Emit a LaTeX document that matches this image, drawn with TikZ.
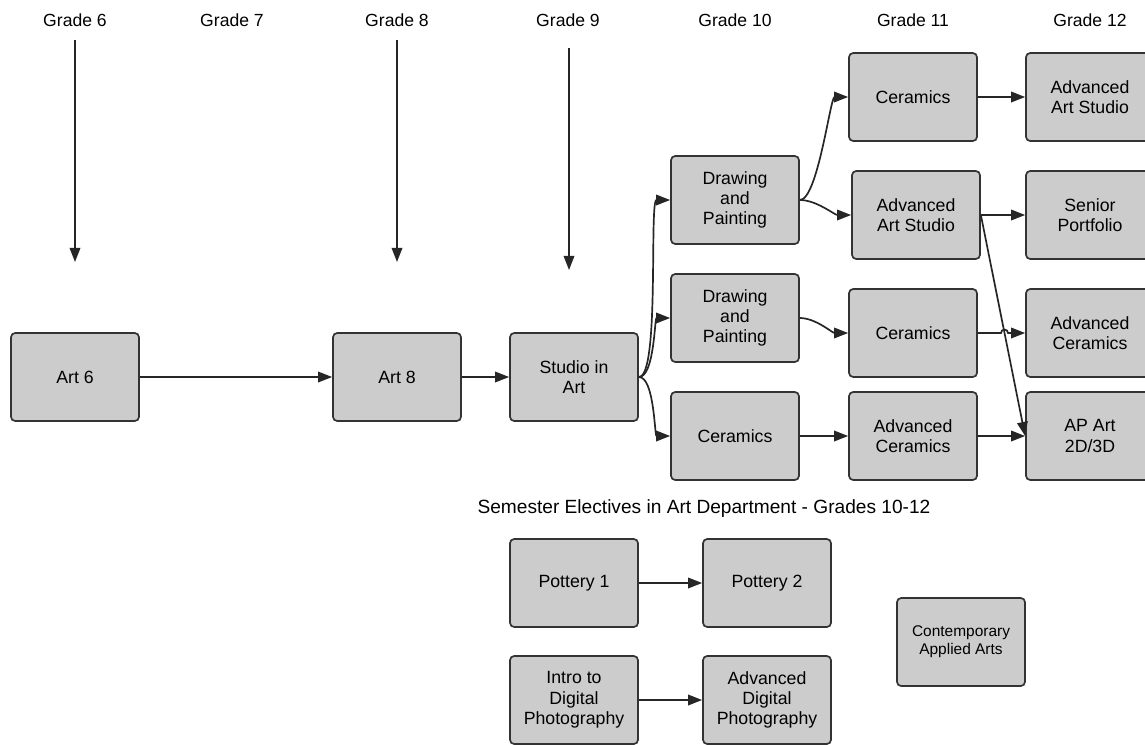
\documentclass[tikz,border=0pt]{standalone}
\usepackage{fontspec}
\setmainfont{Liberation Sans}
\usetikzlibrary{arrows.meta}
\usetikzlibrary{intersections}
\tikzset{course/.style={draw=black!80, line width=1.2pt, fill=black!20,
		rounded corners=3pt, minimum width=3.2cm, minimum height=2.2cm,
		align=center, inner sep=2pt, font=\fontsize{12.6}{14.5}\selectfont},
	grade/.style={font=\fontsize{12.5}{14}\selectfont}}

\begin{document}
\begin{tikzpicture}[x=0.025cm,y=-0.025cm]
		\useasboundingbox (0,0) rectangle (1145,744);
		\begin{scope}[every node/.style={grade}]
			\node (G6) at (75,20) {Grade 6};
			\node (G7) at (232,20) {Grade 7};
			\node (G8) at (397,20) {Grade 8};
			\node (G9) at (568,20) {Grade 9};
			\node (G10) at (735,20) {Grade 10};
			\node (G11) at (913,20) {Grade 11};
			\node (G12) at (1090,20) {Grade 12};
			\node (Sem) at (704,509) {\fontsize{13.6}{15}\selectfont Semester Electives in Art Department - Grades 10-12};
		\end{scope}
		\coordinate (T6) at (75,40);
		\coordinate (B6) at (75,262);
		\coordinate (T8) at (397,40);
		\coordinate (B8) at (397,262);
		\coordinate (T9) at (569,48);
		\coordinate (B9) at (569,270);
		\begin{scope}[every node/.style={course}]
			\node (Art6) at (75,377) {Art 6};
			\node (Art8) at (397,377) {Art 8};
			\node (Studio) at (574,377) {Studio in\\Art};
			\node (DPa) at (735,200) {Drawing\\and\\Painting};
			\node (DPb) at (735,318) {Drawing\\and\\Painting};
			\node (CerX) at (735,436) {Ceramics};
			\node (CerXIa) at (913,97) {Ceramics};
			\node (AASXI) at (916,215) {Advanced\\Art Studio};
			\node (CerXIb) at (913,333) {Ceramics};
			\node (ACerXI) at (913,436) {Advanced\\Ceramics};
			\node (AASXII) at (1090,97) {Advanced\\Art Studio};
			\node (SenPort) at (1090,215) {Senior\\Portfolio};
			\node (ACerXII) at (1090,333) {Advanced\\Ceramics};
			\node (APArt) at (1090,436) {AP Art\\2D/3D};
			\node (Pot1) at (574,583) {Pottery 1};
			\node (Pot2) at (767,583) {Pottery 2};
			\node (Photo1) at (574,700) {Intro to\\Digital\\Photography};
			\node (Photo2) at (767,700) {Advanced\\Digital\\Photography};
			\node[font=\fontsize{11}{13}\selectfont] (CAA) at (961,642) {Contemporary\\Applied Arts};
		\end{scope}
		\begin{scope}[>={Triangle[length=10pt,width=7.5pt]},
			every edge/.style={draw=black!85,line width=1.2pt}]
			\path [->] (T6) edge (B6);
			\path [->] (T8) edge (B8);
			\path [->] (T9) edge (B9);
			\path [->] (Art6) edge (Art8);
			\path [->] (Art8) edge (Studio);
			\path [->] (Studio.east) edge[out=0,in=180,looseness=0.3] (DPa.west);
			\path [->] (Studio.east) edge[out=0,in=180,looseness=0.6] (DPb.west);
			\path [->] (Studio.east) edge[out=0,in=180,looseness=0.6] (CerX.west);
			\path [->] (DPa.east) edge[out=0,in=180,looseness=0.4] (CerXIa.west);
			\path [->] (DPa.east) edge[out=0,in=180,looseness=0.8] (AASXI.west);
			\path [->] (DPb.east) edge[out=0,in=180,looseness=0.8] (CerXIb.west);
			\path [->] (CerX) edge (ACerXI);
			\path [->] (CerXIa) edge (AASXII);
			\path [->] (AASXI.east) edge (SenPort.west);
			\path [->] (ACerXI) edge (APArt);
			\path [->] (AASXI.east) edge (APArt.west);
			\path [name path=diag] (AASXI.east) -- (APArt.west);
			\path [name path=flat] (CerXIb.east) -- (ACerXII.west);
			\draw [->, draw=black!85, line width=1.2pt, name intersections={of=diag and flat, by=X}]
				(CerXIb.east) -- ([xshift=-2.5pt]X) arc[start angle=180, end angle=0, radius=2.5pt] -- (ACerXII.west);
			\path [->] (Pot1) edge (Pot2);
			\path [->] (Photo1) edge (Photo2);
		\end{scope}
	\end{tikzpicture}
\end{document}
